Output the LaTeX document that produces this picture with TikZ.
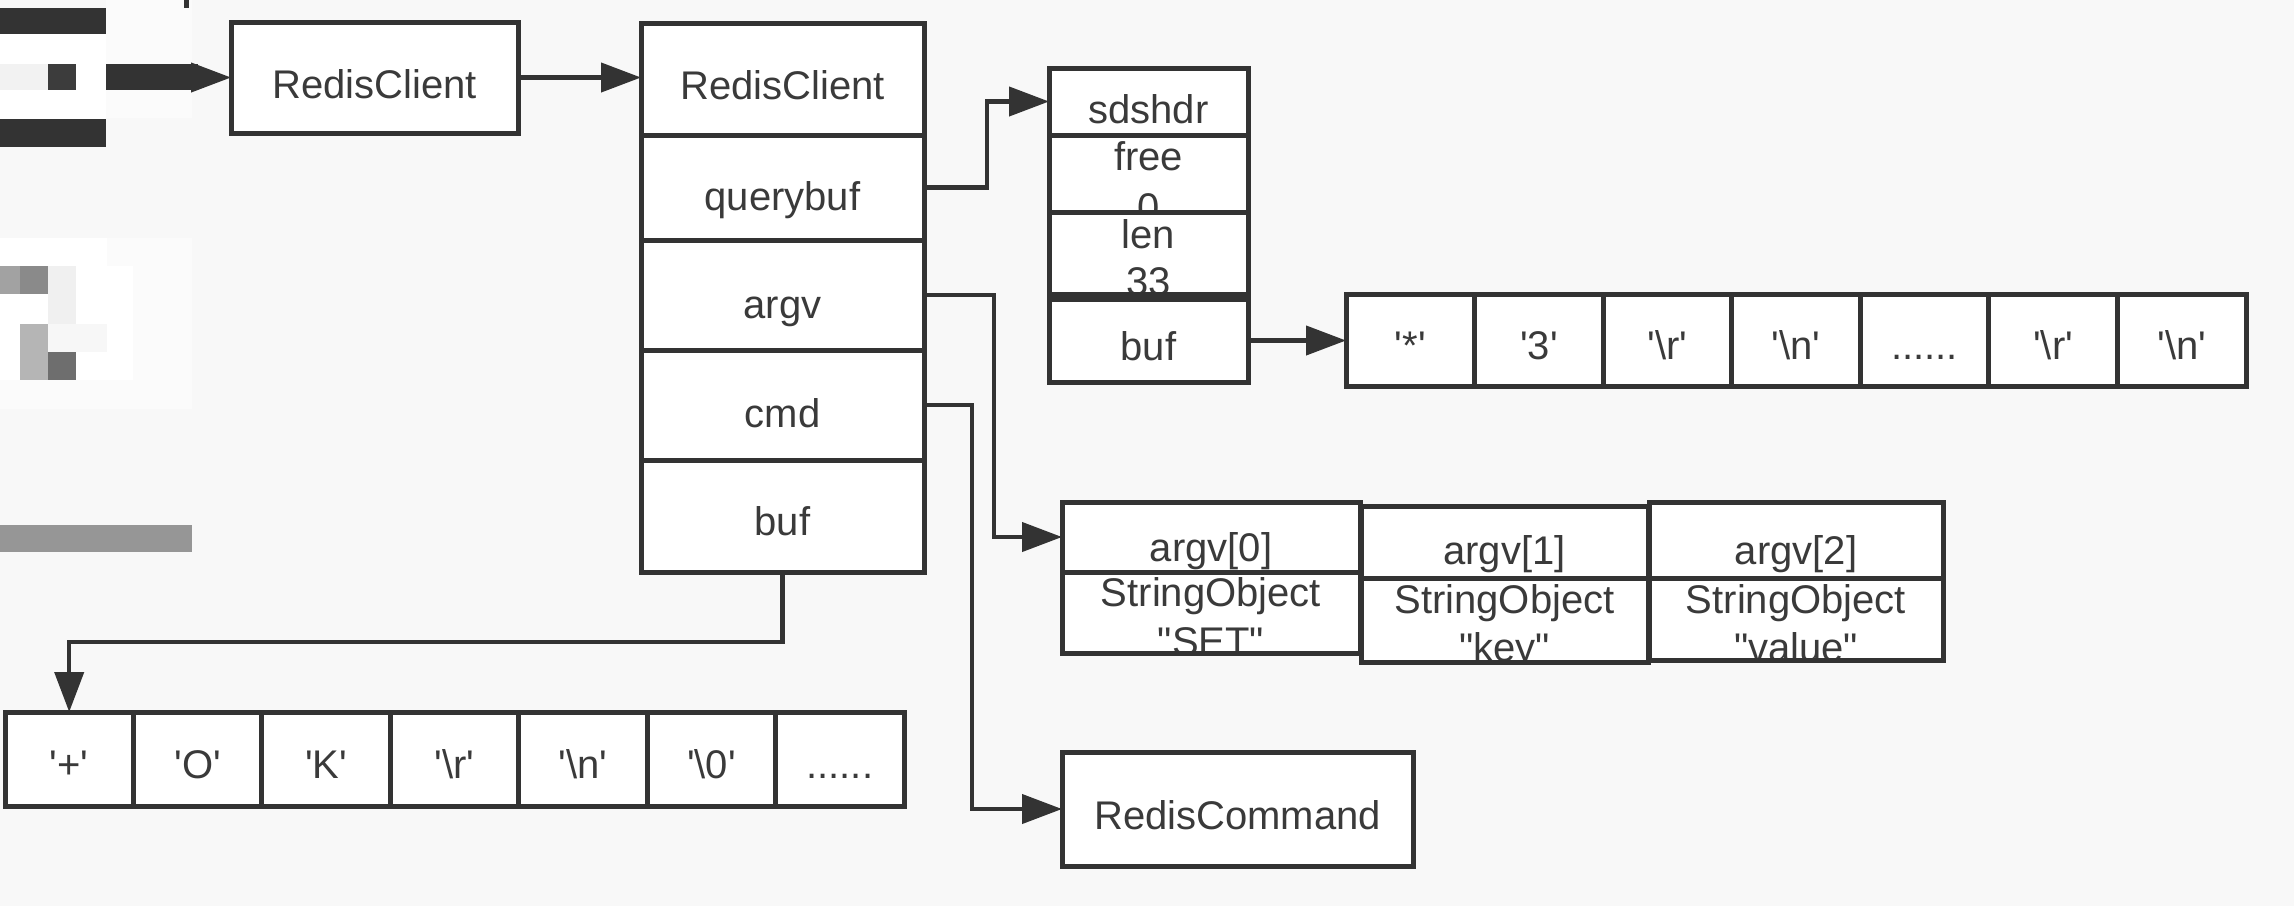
\documentclass[tikz,border=0pt]{standalone}
\usepackage{fontspec}
\setmainfont{Liberation Sans}
\usetikzlibrary{arrows.meta}
\definecolor{ln}{HTML}{333333}
\definecolor{tx}{HTML}{3A3A3A}
\definecolor{bg}{HTML}{F8F8F8}
\definecolor{mzA}{HTML}{F2F2F2}
\definecolor{mzB}{HTML}{3C3C3C}
\definecolor{mzC}{HTML}{A2A2A2}
\definecolor{mzD}{HTML}{8A8A8A}
\definecolor{mzE}{HTML}{F0F0F0}
\definecolor{mzF}{HTML}{B5B5B5}
\definecolor{mzG}{HTML}{F7F7F7}
\definecolor{mzH}{HTML}{6E6E6E}
\definecolor{mzI}{HTML}{969696}
\definecolor{mzJ}{HTML}{FBFBFB}
\newcommand\chq[1]{\textquotesingle#1\textquotesingle}
\newcommand\dbq[1]{\textquotedbl#1\textquotedbl}
\begin{document}
\begin{tikzpicture}[x=0.5pt,y=-0.5pt,
  box/.style={draw=ln, fill=white, line width=2.5pt, inner sep=0pt, outer sep=0pt},
  boxfill/.style={fill=white, inner sep=0pt, outer sep=0pt},
  border/.style={draw=ln, line width=2.5pt},
  lbl/.style={text=tx, font=\fontsize{20pt}{24pt}\selectfont, inner sep=0pt, anchor=base},
  conn/.style={draw=ln, line width=2.1pt, -{Triangle[length=20pt,width=14.5pt]}}]
\useasboundingbox (0,0) rectangle (2294,906);
\fill[bg] (0,0) rectangle (2294,906);
% pixelated (redacted) area
\fill[mzJ] (106,0) rectangle (192,118);
\fill[white] (0,34) rectangle (106,119);
\fill[ln] (0,8) rectangle (106,34);
\fill[ln] (0,119) rectangle (106,147);
\fill[mzA] (0,64) rectangle (48,90);
\fill[mzB] (48,64) rectangle (76,90);
\fill[ln] (106,64) rectangle (198,90);
\fill[ln] (184,0) rectangle (189,8);
\fill[mzJ] (107,238) rectangle (192,409);
\fill[mzJ] (0,380) rectangle (107,409);
\fill[white] (0,238) rectangle (107,266);
\fill[white] (0,266) rectangle (133,380);
\fill[mzC] (0,266) rectangle (20,294);
\fill[mzD] (20,266) rectangle (48,294);
\fill[mzE] (48,266) rectangle (76,324);
\fill[mzF] (20,324) rectangle (48,380);
\fill[mzG] (48,324) rectangle (107,352);
\fill[mzH] (48,352) rectangle (76,380);
\fill[mzI] (0,525) rectangle (192,552);

% first RedisClient
\node[box, minimum width=143.5pt, minimum height=55.5pt] (rc1) at (374.5,77.5) {};
\node[lbl] (rc1t) at (374.5,98) {RedisClient};

% main RedisClient column
\node[box, minimum width=141.5pt, minimum height=56pt] (mrc) at (782.5,79) {};
\node[box, minimum width=141.5pt, minimum height=52.5pt] (mqb) at (782.5,187.5) {};
\node[box, minimum width=141.5pt, minimum height=55pt] (margv) at (782.5,295) {};
\node[box, minimum width=141.5pt, minimum height=55pt] (mcmd) at (782.5,405) {};
\node[box, minimum width=141.5pt, minimum height=56pt] (mbuf) at (782.5,516) {};
\node[lbl] (mrct) at (782.5,99) {RedisClient};
\node[lbl] (mqbt) at (782.5,210) {querybuf};
\node[lbl] (margvt) at (782.5,318) {argv};
\node[lbl] (mcmdt) at (782.5,427) {cmd};
\node[lbl] (mbuft) at (782.5,535) {buf};

% sdshdr
\node[box, minimum width=99.5pt, minimum height=33.5pt] (shdr) at (1148.5,101.5) {};
\node[lbl] (shdrt) at (1148.5,123) {sdshdr};
\node[boxfill, minimum width=99.5pt, minimum height=38.5pt] (sfree) at (1148.5,173.5) {};
\begin{scope}
\clip (sfree.south west) rectangle (sfree.north east);
\node[lbl] (sfreet) at (1148.5,170) {free};
\node[lbl] (sfreev) at (1148.5,221) {0};
\end{scope}
\draw[border] (sfree.south west) rectangle (sfree.north east);
\node[boxfill, minimum width=99.5pt, minimum height=41pt] (slen) at (1148.5,253) {};
\begin{scope}
\clip (slen.south west) rectangle (slen.north east);
\node[lbl] (slent) at (1148.5,248) {len};
\node[lbl] (slenv) at (1148.5,295) {33};
\end{scope}
\draw[border] (slen.south west) rectangle (slen.north east);
\node[box, minimum width=99.5pt, minimum height=41.5pt] (sbuf) at (1148.5,340.5) {};
\node[lbl] (sbuft) at (1148.5,360) {buf};

% query buffer chars
\foreach \i/\t in {1/{\chq{*}},2/{\chq{3}},3/{\chq{\textbackslash r}},4/{\chq{\textbackslash n}},5/{......},6/{\chq{\textbackslash r}},7/{\chq{\textbackslash n}}}{
  \node[box, minimum width=64.29pt, minimum height=46pt] (t\i) at ({1410.29+(\i-1)*128.57},340) {};
  \node[lbl] (tt\i) at ({1410.29+(\i-1)*128.57},359) {\t};
}

% reply buffer chars
\foreach \i/\t in {1/{\chq{+}},2/{\chq{O}},3/{\chq{K}},4/{\chq{\textbackslash r}},5/{\chq{\textbackslash n}},6/{\chq{\textbackslash 0}},7/{......}}{
  \node[box, minimum width=64.21pt, minimum height=47pt] (b\i) at ({69.21+(\i-1)*128.43},759) {};
  \node[lbl] (bt\i) at ({69.21+(\i-1)*128.43},778) {\t};
}

% argv objects
\node[box, minimum width=149pt, minimum height=35pt] (a0top) at (1211,537) {};
\node[lbl] (a0t) at (1211,561) {argv[0]};
\node[boxfill, minimum width=149pt, minimum height=40.5pt] (a0bot) at (1211,612.5) {};
\begin{scope}
\clip (a0bot.south west) rectangle (a0bot.north east);
\node[lbl] (a0s) at (1211,606) {StringObject};
\node[lbl] (a0v) at (1211,655) {\dbq{SET}};
\end{scope}
\draw[border] (a0bot.south west) rectangle (a0bot.north east);

\node[box, minimum width=143.5pt, minimum height=36pt] (a1top) at (1504.5,542) {};
\node[lbl] (a1t) at (1504.5,564) {argv[1]};
\node[boxfill, minimum width=143.5pt, minimum height=42pt] (a1bot) at (1504.5,620) {};
\begin{scope}
\clip (a1bot.south west) rectangle (a1bot.north east);
\node[lbl] (a1s) at (1504.5,613) {StringObject};
\node[lbl] (a1v) at (1504.5,661) {\dbq{key}};
\end{scope}
\draw[border] (a1bot.south west) rectangle (a1bot.north east);

\node[box, minimum width=147pt, minimum height=38pt] (a2top) at (1796,540) {};
\node[lbl] (a2t) at (1796,564) {argv[2]};
\node[boxfill, minimum width=147pt, minimum height=41pt] (a2bot) at (1796,619) {};
\begin{scope}
\clip (a2bot.south west) rectangle (a2bot.north east);
\node[lbl] (a2s) at (1796,613) {StringObject};
\node[lbl] (a2v) at (1796,661) {\dbq{value}};
\end{scope}
\draw[border] (a2bot.south west) rectangle (a2bot.north east);

% RedisCommand
\node[box, minimum width=175.5pt, minimum height=57pt] (rcmd) at (1237.5,809) {};
\node[lbl] (rcmdt) at (1237.5,829) {RedisCommand};

% connectors
\coordinate (src) at (188,77.5);
\draw[conn] (src) -- (rc1.west);
\draw[conn] (rc1.east) -- (rc1.east -| mrc.west);
\draw[conn] (mqb.east) -- ++(63,0) |- (shdr.west);
\draw[conn] (sbuf.east) -- (sbuf.east -| t1.west);
\draw[conn] (margv.east) -- ++(70,0) |- (a0top.west);
\draw[conn] (mcmd.east) -- ++(48,0) |- (rcmd.west);
\draw[conn] (mbuf.south) -- ++(0,70) -| (b1.north);
\end{tikzpicture}
\end{document}
